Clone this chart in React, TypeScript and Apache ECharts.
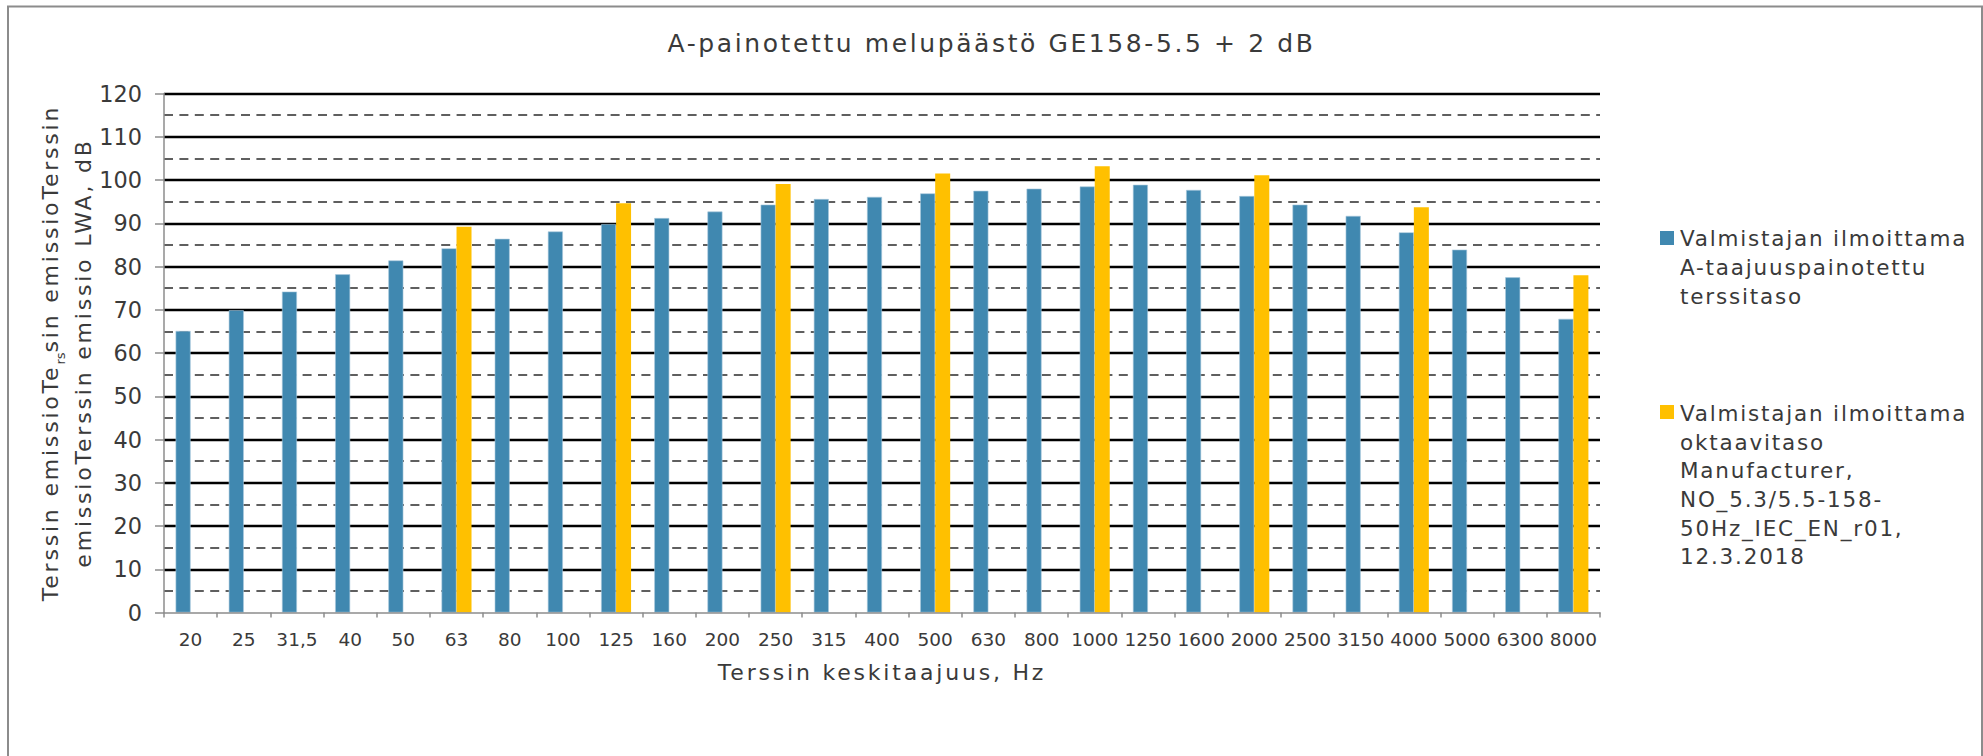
import React, { useEffect, useRef } from "react";
import * as echarts from "echarts";

const categories = ["20", "25", "31,5", "40", "50", "63", "80", "100", "125", "160", "200", "250", "315", "400", "500", "630", "800", "1000", "1250", "1600", "2000", "2500", "3150", "4000", "5000", "6300", "8000"];
const thirdOctaveValues = [65.1, 69.9, 74.2, 78.2, 81.4, 84.2, 86.4, 88.1, 89.8, 91.2, 92.7, 94.3, 95.6, 96.1, 96.9, 97.5, 98.0, 98.5, 98.9, 97.7, 96.3, 94.3, 91.7, 87.9, 83.9, 77.5, 67.9];
const octaveValues = [null, null, null, null, null, 89.2, null, null, 94.6, null, null, 99.1, null, null, 101.5, null, null, 103.2, null, null, 101.1, null, null, 93.7, null, null, 78.0];
const seriesNames = [
  "Valmistajan ilmoittama\nA-taajuuspainotettu\nterssitaso",
  "Valmistajan ilmoittama\noktaavitaso\nManufacturer,\nNO_5.3/5.5-158-\n50Hz_IEC_EN_r01,\n12.3.2018",
];
const yTicks = { min: 0, max: 120, interval: 10 };
const titleText = "A-painotettu melupäästö GE158-5.5 + 2 dB";
const xAxisTitle = "Terssin keskitaajuus, Hz";
const yTitleParts = ["Terssin emissioTe", "rs", "sin emissioTerssin", "emissioTerssin emissio LWA, dB"];

const FONT = "DejaVu Sans";
const TEXT = "#3a3a3a";
const BLUE = "#4088b0";
const GOLD = "#ffc000";
const AXIS = "#8c8c8c";
const SP = 2.8; // letter spacing for 22px texts (axis names)
const LSP = 1.8; // letter spacing for 21.5px texts (legend)
const TSP = 2.6; // letter spacing for title (25px)

const padFor = (s: string) => [0, (s.length * SP) / 2, 0, (s.length * SP) / 2];

export default function App() {
  const ref = useRef<HTMLDivElement>(null);
  useEffect(() => {
    if (!ref.current) return;
    const chart = echarts.init(ref.current, null, { renderer: "svg" });
    chart.setOption({
      animation: false,
      backgroundColor: "#ffffff",
      title: {
        text: titleText,
        left: "center",
        top: 26,
        textStyle: { fontFamily: FONT, fontSize: 25, fontWeight: "normal", color: TEXT },
      },
      grid: { left: 164, right: 383, top: 93.5, bottom: 143.5 },
      xAxis: {
        type: "category",
        data: categories,
        name: xAxisTitle,
        nameLocation: "middle",
        nameGap: 49,
        nameMoveOverlap: false,
        nameTextStyle: { fontFamily: FONT, fontSize: 22, color: TEXT },
        axisLine: { show: true, lineStyle: { color: AXIS, width: 1.5 } },
        axisTick: { show: true, alignWithLabel: false, length: 5, lineStyle: { color: AXIS, width: 1.5 } },
        axisLabel: { interval: 0, margin: 17, fontFamily: FONT, fontSize: 18.5, color: TEXT },
        z: 5,
      },
      yAxis: {
        type: "value",
        min: yTicks.min,
        max: yTicks.max,
        interval: yTicks.interval,
        name:
          "{a1|" + yTitleParts[0] + "}{sub|" + yTitleParts[1] + "}{a2|" + yTitleParts[2] + "}\n{a3|" + yTitleParts[3] + "}",
        nameLocation: "middle",
        nameGap: 64,
        nameMoveOverlap: false,
        nameTextStyle: {
          fontFamily: FONT,
          fontSize: 22,
          color: TEXT,
          lineHeight: 33,
          rich: {
            a1: { fontFamily: FONT, fontSize: 22, color: TEXT, lineHeight: 33, padding: padFor(yTitleParts[0]) },
            a2: { fontFamily: FONT, fontSize: 22, color: TEXT, lineHeight: 33, padding: padFor(yTitleParts[2]) },
            a3: { fontFamily: FONT, fontSize: 22, color: TEXT, lineHeight: 33, padding: padFor(yTitleParts[3]) },
            sub: { fontFamily: FONT, fontSize: 13, color: TEXT, lineHeight: 33, verticalAlign: "bottom" },
          },
        },
        axisLine: { show: true, lineStyle: { color: AXIS, width: 1.5 } },
        axisTick: { show: true, length: 9, lineStyle: { color: AXIS, width: 1.5 } },
        axisLabel: { margin: 22, fontFamily: FONT, fontSize: 22.4, color: TEXT },
        splitLine: { show: true, showMinLine: false, lineStyle: { color: "#000000", width: 2.4 } },
        minorTick: { show: false, splitNumber: 2 },
        minorSplitLine: { show: true, lineStyle: { color: "#5f5f5f", width: 1.8, type: [9, 6.4] } },
      },
      series: [
        {
          name: seriesNames[0],
          type: "bar",
          data: thirdOctaveValues,
          barWidth: 15,
          barGap: "0%",
          itemStyle: { color: BLUE, borderColor: "#a9c9de", borderWidth: 0.6 },
          z: 3,
        },
        {
          name: seriesNames[1],
          type: "bar",
          data: octaveValues,
          barWidth: 15,
          barGap: "0%",
          itemStyle: { color: GOLD },
          z: 3,
        },
      ],
      graphic: [
        {
          type: "rect",
          shape: { x: 8, y: 6.5, width: 1974, height: 800 },
          style: { fill: "none", stroke: AXIS, lineWidth: 2 },
          silent: true,
        },
        {
          type: "rect",
          shape: { x: 1660, y: 231, width: 14, height: 14 },
          style: { fill: BLUE },
        },
        {
          type: "text",
          x: 1680,
          y: 224,
          style: { text: seriesNames[0], fill: TEXT, fontFamily: FONT, fontSize: 21.5, lineHeight: 29, verticalAlign: "top", align: "left" },
        },
        {
          type: "rect",
          shape: { x: 1660, y: 405, width: 14, height: 14 },
          style: { fill: GOLD },
        },
        {
          type: "text",
          x: 1680,
          y: 399,
          style: { text: seriesNames[1], fill: TEXT, fontFamily: FONT, fontSize: 21.5, lineHeight: 28.7, verticalAlign: "top", align: "left" },
        },
      ],
    });
    return () => chart.dispose();
  }, []);
  return (
    <>
      <style>{`.ech text[style*="22px"]{letter-spacing:${SP}px}.ech text[style*="21.5px"]{letter-spacing:${LSP}px}.ech text[style*="25px"]{letter-spacing:${TSP}px}`}</style>
      <div
        ref={ref}
        className="ech"
        style={{ position: "fixed", left: 0, top: 0, width: 1983, height: 756, background: "#fff" }}
      />
    </>
  );
}
